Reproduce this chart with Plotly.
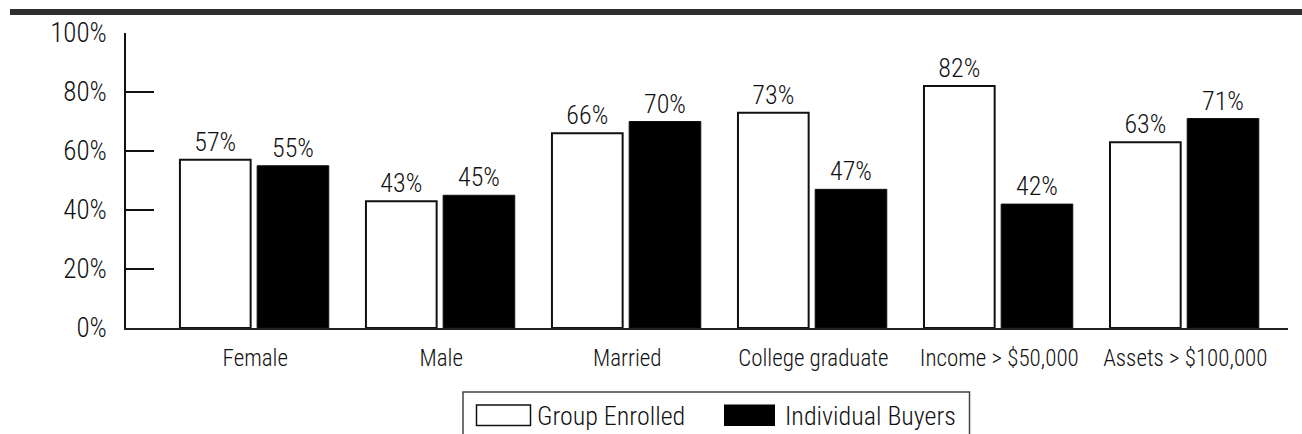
import plotly.graph_objects as go

# Share of each group with the given characteristic (percent)
categories = ["Female", "Male", "Married", "College graduate",
              "Income > $50,000", "Assets > $100,000"]
group_enrolled = [57, 43, 66, 73, 82, 63]
individual_buyers = [55, 45, 70, 47, 42, 71]
y_ticks = [0, 20, 40, 60, 80, 100]
y_tick_text = [f"{v}%" for v in y_ticks]

FONT = "Roboto Condensed, Liberation Sans Narrow, Arial Narrow, sans-serif"
WEIGHT = 300
INK = "#111111"

W, H = 1302, 434
L, R, T, B = 126, 14, 33, 106
plot_w, plot_h = W - L - R, H - T - B


def px_x(px):
    """Page pixel x -> paper coordinate."""
    return (px - L) / plot_w


def px_y(py):
    """Page pixel y -> paper coordinate."""
    return (H - B - py) / plot_h


def font(size):
    return dict(family=FONT, size=size, color=INK, weight=WEIGHT)


fig = go.Figure()

fig.add_bar(
    x=categories, y=group_enrolled, name="Group Enrolled",
    width=0.38, offset=-0.405,
    marker=dict(color="white", line=dict(color="#111", width=2)),
    text=[f"{v}%" for v in group_enrolled], textposition="outside",
    textfont=font(26),
    cliponaxis=False, showlegend=False,
)
fig.add_bar(
    x=categories, y=individual_buyers, name="Individual Buyers",
    width=0.385, offset=0.01,
    marker=dict(color="black", line=dict(color="#111", width=1)),
    text=[f"{v}%" for v in individual_buyers], textposition="outside",
    textfont=font(26),
    cliponaxis=False, showlegend=False,
)

# Heavy rule across the top of the figure
shapes = [
    dict(type="rect", xref="paper", yref="paper",
         x0=px_x(10), x1=px_x(W + 5), y0=px_y(15), y1=px_y(9),
         fillcolor="#2e2e2e", line=dict(width=0), layer="above"),
    # legend frame
    dict(type="rect", xref="paper", yref="paper",
         x0=px_x(463), x1=px_x(969.5), y0=px_y(445), y1=px_y(392),
         fillcolor="white", line=dict(color="#444", width=1.5)),
    # legend swatches
    dict(type="rect", xref="paper", yref="paper",
         x0=px_x(476.5), x1=px_x(530.5), y0=px_y(425.5), y1=px_y(405),
         fillcolor="white", line=dict(color="#111", width=1.5)),
    dict(type="rect", xref="paper", yref="paper",
         x0=px_x(724), x1=px_x(775), y0=px_y(426), y1=px_y(404.5),
         fillcolor="black", line=dict(color="black", width=0)),
]

annotations = [
    dict(text="Group Enrolled", xref="paper", yref="paper",
         x=px_x(535), y=px_y(415.5), xanchor="left", yanchor="middle",
         showarrow=False, font=font(26)),
    dict(text="Individual Buyers", xref="paper", yref="paper",
         x=px_x(783), y=px_y(415.5), xanchor="left", yanchor="middle",
         showarrow=False, font=font(26)),
]

fig.update_layout(
    width=W, height=H,
    margin=dict(l=L, r=R, t=T, b=B, pad=0, autoexpand=False),
    paper_bgcolor="white", plot_bgcolor="white",
    barmode="overlay",
    shapes=shapes, annotations=annotations,
    showlegend=False,
    font=dict(family=FONT, color=INK, weight=WEIGHT),
)
fig.update_xaxes(
    type="category", range=[-0.695, 5.552],
    showline=True, linecolor="#222", linewidth=1.5,
    showgrid=False, zeroline=False, ticks="",
    tickangle=0, automargin=False,
    ticklabelstandoff=9,
    tickfont=font(23),
)
fig.update_yaxes(
    range=[0, 100], tickvals=y_ticks, ticktext=y_tick_text,
    showline=True, linecolor="#111", linewidth=1.5,
    showgrid=False, zeroline=False, automargin=False,
    ticks="inside", ticklen=28, tickwidth=1.5, tickcolor="#111",
    ticklabelstandoff=12,
    tickfont=font(27),
)

fig.write_html("out.html")
